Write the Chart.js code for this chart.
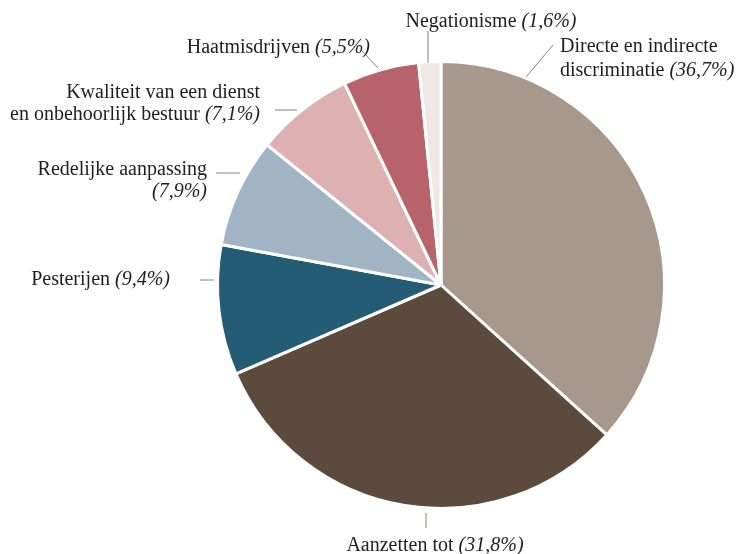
<!DOCTYPE html>
<html>
<head>
<meta charset="utf-8">
<script src="https://cdn.jsdelivr.net/npm/chart.js@4"></script>
<style>
  html, body { margin: 0; padding: 0; background: #fff; }
  #wrap { width: 746px; height: 554px; position: relative; }
</style>
</head>
<body>
<div id="wrap"><canvas id="ch-pie"></canvas></div>
<script>
// ── Data ─────────────────────────────────────────────────────────────────
const CATEGORIES = [
    ['Directe en indirecte', 'discriminatie'],
    ['Aanzetten tot'],
    ['Pesterijen'],
    ['Redelijke aanpassing', ''],
    ['Kwaliteit van een dienst', 'en onbehoorlijk bestuur'],
    ['Haatmisdrijven'],
    ['Negationisme'],
];
const SHARES = [36.7, 31.8, 9.4, 7.9, 7.1, 5.5, 1.6];
const COLORS = ['#a8978b', '#5c4a3c', '#245c75', '#a0b4c3', '#ddb0b2', '#b8636a', '#efe7e5'];

// ── Label layout, relative to pie center (dx, dy) ───────────────────────
// line: leader start/end, text: anchor, align, line spacing
const LAYOUT = [
    { line: [85, -208, 112, -240],    tx: 119,  ty: -238, align: 'left',   gap: 24 },
    { line: [-15, 228, -15, 243],     tx: -6,   ty: 261,  align: 'center', gap: 22 },
    { line: [-241, -5, -227, -5],     tx: -271, ty: -5,   align: 'right',  gap: 22 },
    { line: [-225, -112, -201, -112], tx: -234, ty: -115, align: 'right',  gap: 22 },
    { line: [-166, -175, -144, -175], tx: -181, ty: -192, align: 'right',  gap: 22 },
    { line: [-79, -234, -63, -217],   tx: -71,  ty: -237, align: 'right',  gap: 22 },
    { line: [-13, -254, -13, -222],   tx: 50,   ty: -263, align: 'center', gap: 22 },
];

const FONT = '"Liberation Serif", "DejaVu Serif", serif';
const SIZE = 20;
const fmt = v => '(' + v.toFixed(1).replace('.', ',') + '%)';

const labelPlugin = {
    id: 'pieLabels',
    afterDraw(chart) {
        const ctx = chart.ctx;
        const arc = chart.getDatasetMeta(0).data[0];
        const cx = arc.x, cy = arc.y;
        ctx.save();
        ctx.strokeStyle = '#8f7f74';
        ctx.lineWidth = 1;
        ctx.textBaseline = 'middle';
        LAYOUT.forEach((L, i) => {
            ctx.beginPath();
            ctx.moveTo(cx + L.line[0], cy + L.line[1]);
            ctx.lineTo(cx + L.line[2], cy + L.line[3]);
            ctx.stroke();

            const lines = CATEGORIES[i];
            const pct = fmt(SHARES[i]);
            lines.forEach((txt, k) => {
                const y = cy + L.ty + k * L.gap;
                const last = k === lines.length - 1;
                const main = last ? (txt ? txt + ' ' : '') : txt;
                const ital = last ? pct : '';
                ctx.font = `${SIZE}px ${FONT}`;
                const w1 = ctx.measureText(main).width;
                ctx.font = `italic ${SIZE}px ${FONT}`;
                const w2 = ctx.measureText(ital).width;
                const tot = w1 + w2;
                let x = cx + L.tx;
                if (L.align === 'right') x -= tot;
                else if (L.align === 'center') x -= tot / 2;
                ctx.fillStyle = '#1e1e1e';
                ctx.textAlign = 'left';
                ctx.font = `${SIZE}px ${FONT}`;
                ctx.fillText(main, x, y);
                ctx.font = `italic ${SIZE}px ${FONT}`;
                ctx.fillText(ital, x + w1, y);
            });
        });
        ctx.restore();
    },
};

new Chart(document.getElementById('ch-pie').getContext('2d'), {
    type: 'pie',
    data: {
        labels: CATEGORIES.map(c => c.join(' ')),
        datasets: [{
            data: SHARES,
            backgroundColor: COLORS,
            borderColor: '#ffffff',
            borderWidth: 3,
        }],
    },
    options: {
        responsive: true, maintainAspectRatio: false, animation: false,
        layout: { padding: { top: 60, bottom: 44, left: 216, right: 80 } },
        plugins: { legend: { display: false }, tooltip: { enabled: false } },
    },
    plugins: [labelPlugin],
});
</script>
</body>
</html>
